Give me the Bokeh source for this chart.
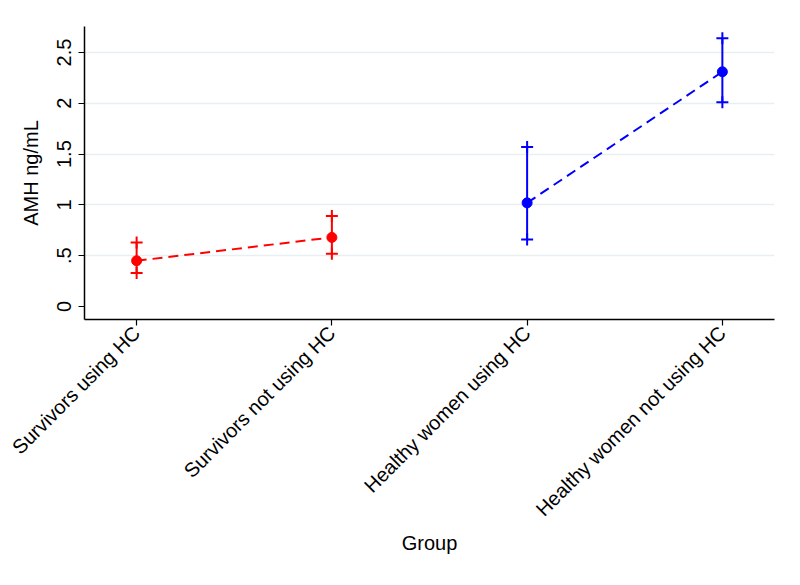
import math
from bokeh.plotting import figure
from bokeh.models import Range1d, FixedTicker, ColumnDataSource
from bokeh.embed import file_html
from bokeh.resources import INLINE

groups = ["Survivors using HC", "Survivors not using HC",
          "Healthy women using HC", "Healthy women not using HC"]
xpos = [1, 2, 3, 4]
means = [0.45, 0.68, 1.02, 2.31]
lower = [0.33, 0.52, 0.66, 2.01]
upper = [0.63, 0.89, 1.57, 2.64]
series_colors = ["#ff0000", "#ff0000", "#0000ff", "#0000ff"]
yticks = [0, 0.5, 1, 1.5, 2, 2.5]
ytick_labels = ["0", ".5", "1", "1.5", "2", "2.5"]

FONT = "Liberation Sans"

p = figure(width=792, height=577, output_backend="svg", toolbar_location=None,
           x_range=Range1d(0.733, 4.267), y_range=Range1d(-0.128, 2.756),
           min_border_left=84, min_border_right=18, min_border_top=26,
           min_border_bottom=258, background_fill_color="white",
           border_fill_color="white")
p.outline_line_color = None

src = ColumnDataSource(dict(x=xpos, m=means, lo=lower, hi=upper, c=series_colors))

# connecting dashed lines
p.line(xpos[:2], means[:2], line_color="#ff0000", line_width=2, line_dash="10 6")
p.line(xpos[2:], means[2:], line_color="#0000ff", line_width=2, line_dash="10 6")

# CI bars
p.segment(x0="x", y0="lo", x1="x", y1="hi", source=src, line_color="c", line_width=2)
p.scatter(x="x", y="lo", source=src, marker="cross", size=12, line_color="c", line_width=2)
p.scatter(x="x", y="hi", source=src, marker="cross", size=12, line_color="c", line_width=2)
p.scatter(x="x", y="m", source=src, marker="circle", size=10, fill_color="c", line_color="c")

# axes
p.xaxis.ticker = FixedTicker(ticks=xpos)
p.xaxis.major_label_overrides = {x: g for x, g in zip(xpos, groups)}
p.xaxis.major_label_orientation = math.pi / 4
p.xaxis.axis_label = "Group"
p.yaxis.ticker = FixedTicker(ticks=yticks)
p.yaxis.major_label_overrides = {t: l for t, l in zip(yticks, ytick_labels)}
p.yaxis.major_label_orientation = "vertical"
p.yaxis.axis_label = "AMH ng/mL"

for ax in (p.xaxis[0], p.yaxis[0]):
    ax.axis_line_color = "black"
    ax.axis_line_width = 1.5
    ax.major_tick_line_color = "black"
    ax.major_tick_line_width = 1.2
    ax.major_tick_out = 6
    ax.major_tick_in = 0
    ax.minor_tick_line_color = None
    ax.major_label_text_font = FONT
    ax.major_label_text_font_size = "20px"
    ax.major_label_text_color = "black"
    ax.axis_label_text_font = FONT
    ax.axis_label_text_font_size = "20px"
    ax.axis_label_text_font_style = "normal"
    ax.axis_label_text_color = "black"

p.xaxis.major_label_standoff = 4
p.xaxis.axis_label_standoff = 1
p.yaxis.major_label_standoff = 7
p.yaxis.axis_label_standoff = 13

p.xgrid.grid_line_color = None
p.ygrid.ticker = FixedTicker(ticks=[0.5, 1, 1.5, 2, 2.5])
p.ygrid.grid_line_color = "#e6eff2"
p.ygrid.grid_line_width = 1.5

open("out.html", "w").write(file_html(p, INLINE))
